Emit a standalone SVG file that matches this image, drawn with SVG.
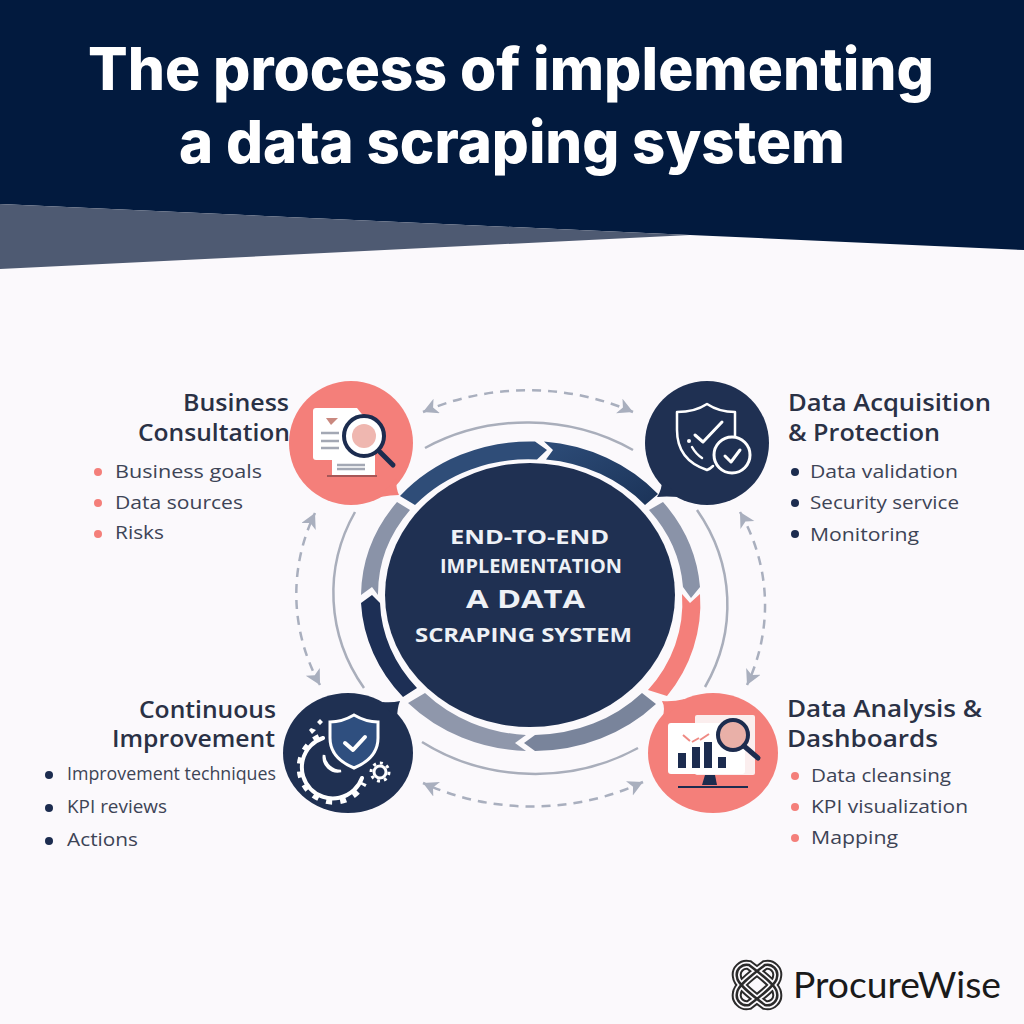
<svg xmlns="http://www.w3.org/2000/svg" width="1024" height="1024" viewBox="0 0 1024 1024">
<style>
.title{font-family:"Inter","Liberation Sans",sans-serif;font-weight:800;font-size:59px;fill:#fff}
.head{font-family:"Open Sans","Noto Sans",sans-serif;font-weight:600;font-size:23px;fill:#2a3145}
.item{font-family:"Open Sans","Noto Sans",sans-serif;font-size:19px;fill:#3d4456}
.core{font-family:"Open Sans","Liberation Sans",sans-serif;font-weight:700;fill:#eef1f6}
.dash{fill:none;stroke:#a9afbe;stroke-width:2.5;stroke-dasharray:9 7}
.thin{fill:none;stroke:#a9aebb;stroke-width:2.5}
.wl{fill:none;stroke:#fff;stroke-linecap:round;stroke-linejoin:round}
.gl{fill:none;stroke:#a3a8b4;stroke-width:2.5}
.dk{fill:#1f3052}
.sa{fill:#f47f7a}
.nv{fill:#1c2c4f}
</style>
<defs>
<marker id="ah" markerUnits="userSpaceOnUse" markerWidth="18" markerHeight="18" refX="15" refY="8" orient="auto-start-reverse"><path d="M0 0L15 8L0 16L4 8Z" fill="#a9afbe"/></marker>
<linearGradient id="gb" x1="0" y1="0" x2="1" y2="1"><stop offset="0" stop-color="#2d4c78"/><stop offset="1" stop-color="#1b3358"/></linearGradient>
<g id="knot" fill="none"><path d="M-8 -20A10 10 0 0 0-20 -8C-20 -2-8 8 8 20A10 10 0 0 0 20 8C20 2 8 -8-8 -20ZM8 -20A10 10 0 0 1 20 -8C20 -2 8 8-8 20A10 10 0 0 1-20 8C-20 2-8 -8 8 -20Z"/></g>
</defs>
<rect width="1024" height="1024" fill="#fbf9fc"/>
<path d="M0 0H1024V250L690 235L0 204Z" fill="#021a3e"/>
<path d="M0 204L690 235L0 269Z" fill="#4e5a72"/>
<text class="title" x="511" y="90" text-anchor="middle" textLength="846" lengthAdjust="spacingAndGlyphs">The process of implementing</text>
<text class="title" x="512" y="163" text-anchor="middle" textLength="666" lengthAdjust="spacingAndGlyphs">a data scraping system</text>

<g id="connectors">
<path class="dash" d="M423 412A236 208 0 0 1 633 412" marker-start="url(#ah)" marker-end="url(#ah)"/>
<path class="dash" d="M740 512A236 208 0 0 1 747 685" marker-start="url(#ah)" marker-end="url(#ah)"/>
<path class="dash" d="M643 782A236 208 0 0 1 423 783" marker-start="url(#ah)" marker-end="url(#ah)"/>
<path class="dash" d="M320 685A236 208 0 0 1 315 513" marker-start="url(#ah)" marker-end="url(#ah)"/>
<path class="thin" d="M425 448A198 178 0 0 1 633 450"/>
<path class="thin" d="M697 510A198 178 0 0 1 705 687"/>
<path class="thin" d="M638 748A198 178 0 0 1 422 742"/>
<path class="thin" d="M364 688A198 178 0 0 1 355 512"/>
</g>

<g id="ring">
<path d="M400 496A171 155 0 0 1 535 441.5L547 450L537 459.5A152 137 0 0 0 415 505Z" fill="#2f4d78"/>
<path d="M544 441.5A171 155 0 0 1 658 494L645 505A152 137 0 0 0 546 459.5L553 450Z" fill="url(#gb)"/>
<path d="M663 502A171 155 0 0 1 700 587L691 598L683 587A152 137 0 0 0 649 510Z" fill="#8a93a8"/>
<path d="M700 594A171 155 0 0 1 667 696L648 690A152 137 0 0 0 682 594L690 603Z" fill="#f47f7a"/>
<path d="M656 704A171 155 0 0 1 535 751L524 743L535 735A152 137 0 0 0 642 693Z" fill="#79849b"/>
<path d="M526 751A171 155 0 0 1 408 703L425 693A152 137 0 0 0 526 735L515 743Z" fill="#8f97ab"/>
<path d="M403 697A171 155 0 0 1 361 603L372 595L380 603A152 137 0 0 0 417 688Z" fill="#1d2f55"/>
<path d="M361 595A171 155 0 0 1 397 502L410 510A152 137 0 0 0 378 595L372 587Z" fill="#8a93a8"/>
</g>

<g id="center">
<ellipse class="dk" cx="530" cy="595" rx="145" ry="132"/>
<text class="core" x="529.5" y="544" font-size="20" text-anchor="middle" textLength="159" lengthAdjust="spacingAndGlyphs">END-TO-END</text>
<text class="core" x="531" y="573" font-size="20" text-anchor="middle" textLength="182" lengthAdjust="spacingAndGlyphs">IMPLEMENTATION</text>
<text class="core" x="525.5" y="608" font-size="25" text-anchor="middle" textLength="119" lengthAdjust="spacingAndGlyphs">A DATA</text>
<text class="core" x="523.5" y="642" font-size="19" text-anchor="middle" textLength="217" lengthAdjust="spacingAndGlyphs">SCRAPING SYSTEM</text>
</g>

<g id="business-consultation">
<circle class="sa" cx="351" cy="443" r="62"/>
<path class="sa" d="M396 478Q396 489 399 495Q391 495 380 497Z"/>
<path d="M316 408H357L365 418V460H316Q313 460 313 457V411Q313 408 316 408Z" fill="#fff"/>
<rect x="332" y="440" width="43" height="35" fill="#fff"/>
<path d="M326 418L338 418L331 425Z" fill="#c9887f"/>
<path class="gl" d="M321 433H339M321 441H339M321 448H339M337 465H365M337 469H365"/>
<path d="M327 476H377" stroke="#8c4a4c" stroke-width="1.5"/>
<circle cx="364" cy="436" r="20" fill="#fff" stroke="#1c2c4f" stroke-width="4"/>
<circle cx="364" cy="436" r="12" fill="#efb7b0"/>
<path d="M380 452L393 465" stroke="#1c2c4f" stroke-width="5" stroke-linecap="round"/>
<text class="head" x="289" y="411" text-anchor="end" textLength="106" lengthAdjust="spacingAndGlyphs">Business</text>
<text class="head" x="290" y="441" text-anchor="end" textLength="152" lengthAdjust="spacingAndGlyphs">Consultation</text>
<g class="sa"><circle cx="98" cy="472" r="4"/><circle cx="98" cy="503" r="4"/><circle cx="98" cy="534" r="4"/></g>
<text class="item" x="115" y="478" textLength="147" lengthAdjust="spacingAndGlyphs">Business goals</text>
<text class="item" x="115" y="509" textLength="128" lengthAdjust="spacingAndGlyphs">Data sources</text>
<text class="item" x="115" y="539" textLength="49" lengthAdjust="spacingAndGlyphs">Risks</text>
</g>

<g id="data-acquisition">
<circle class="dk" cx="707" cy="443" r="62"/>
<path class="dk" d="M662 480Q662 490 657 497Q665 496 680 497Z"/>
<path class="wl" stroke-width="2.5" d="M713 466Q710 469 707 470Q677 460 677 430V412Q695 412 707 404Q719 412 735 412V437"/>
<path class="wl" stroke-width="3" d="M695 435L703 442L722 422"/>
<circle cx="689" cy="441" r="2" fill="#fff"/>
<path class="wl" stroke-width="2.5" d="M692 447Q696 454 702 458"/>
<circle cx="732" cy="455" r="18" class="dk" stroke="#fff" stroke-width="3"/>
<path class="wl" stroke-width="3" d="M725 456L731 462L740 450"/>
<text class="head" x="788" y="411" textLength="203" lengthAdjust="spacingAndGlyphs">Data Acquisition</text>
<text class="head" x="788" y="441" textLength="152" lengthAdjust="spacingAndGlyphs">&amp; Protection</text>
<g class="nv"><circle cx="795" cy="472" r="4"/><circle cx="795" cy="503" r="4"/><circle cx="795" cy="534" r="4"/></g>
<text class="item" x="810" y="478" textLength="148" lengthAdjust="spacingAndGlyphs">Data validation</text>
<text class="item" x="810" y="509" textLength="149" lengthAdjust="spacingAndGlyphs">Security service</text>
<text class="item" x="810" y="541" textLength="109" lengthAdjust="spacingAndGlyphs">Monitoring</text>
</g>

<g id="continuous-improvement">
<ellipse class="dk" cx="348" cy="753" rx="65" ry="60"/>
<path class="dk" d="M382 702Q392 703 400 701Q397 708 397 720Z"/>
<path class="wl" stroke-width="4" d="M323 738A31 31 0 1 0 362 778"/>
<path fill="none" stroke="#fff" stroke-width="6" stroke-dasharray="6 8" d="M319 737A34 34 0 1 0 364 783"/>
<path d="M324 755A14 14 0 0 0 341 771A17 17 0 0 1 324 755Z" fill="none" stroke="#fff" stroke-width="2.5"/>
<path d="M354 715Q366 722 378 722V738Q378 758 354 768Q330 758 330 738V722Q342 722 354 715Z" fill="#2f4f7f" stroke="#fff" stroke-width="3"/>
<path fill="none" stroke="#ffffff" stroke-width="4" stroke-linecap="round" stroke-linejoin="round" d="M345 743L353 750L365 737"/>
<circle cx="380" cy="772" r="6" fill="none" stroke="#fff" stroke-width="3"/>
<circle cx="380" cy="772" r="9" fill="none" stroke="#fff" stroke-width="3" stroke-dasharray="3 4"/>
<path d="M320 719L323 722L320 725L317 722ZM311 728L316 730L312 734L309 730Z" fill="#fff"/>
<text class="head" x="276" y="718" text-anchor="end" textLength="137" lengthAdjust="spacingAndGlyphs">Continuous</text>
<text class="head" x="275" y="747" text-anchor="end" textLength="163" lengthAdjust="spacingAndGlyphs">Improvement</text>
<g class="nv"><circle cx="49" cy="775" r="4"/><circle cx="49" cy="808" r="4"/><circle cx="49" cy="841" r="4"/></g>
<text class="item" x="67" y="780" font-size="17" textLength="209" lengthAdjust="spacingAndGlyphs">Improvement techniques</text>
<text class="item" x="67" y="813" textLength="100" lengthAdjust="spacingAndGlyphs">KPI reviews</text>
<text class="item" x="67" y="846" textLength="71" lengthAdjust="spacingAndGlyphs">Actions</text>
</g>

<g id="data-analysis">
<ellipse class="sa" cx="713" cy="753" rx="65" ry="60"/>
<path class="sa" d="M685 699Q672 702 662 701Q666 708 662 720Z"/>
<rect x="695" y="715" width="60" height="60" rx="2" fill="#fbeeee"/>
<rect x="668" y="723" width="77" height="51" rx="3" fill="#fff"/>
<path d="M683 735L690 741M692 742L699 738M700 740L709 734" stroke="#ef8a84" stroke-width="2" fill="none"/>
<g class="nv"><rect x="678" y="753" width="8" height="15"/><rect x="692" y="747" width="8" height="21"/><rect x="704" y="742" width="8" height="26"/><rect x="718" y="757" width="8" height="11"/></g>
<path class="nv" d="M705 775H715L717 785H702Z"/>
<path d="M678 787H748" stroke="#1c2c4f" stroke-width="2"/>
<circle cx="733" cy="735" r="15" fill="#e9b0a8" stroke="#1c2c4f" stroke-width="4"/>
<path d="M744 746L758 758" stroke="#1c2c4f" stroke-width="5" stroke-linecap="round"/>
<text class="head" x="787" y="717" textLength="195" lengthAdjust="spacingAndGlyphs">Data Analysis &amp;</text>
<text class="head" x="787" y="747" textLength="151" lengthAdjust="spacingAndGlyphs">Dashboards</text>
<g class="sa"><circle cx="795" cy="776" r="4"/><circle cx="795" cy="807" r="4"/><circle cx="795" cy="838" r="4"/></g>
<text class="item" x="811" y="782" textLength="140" lengthAdjust="spacingAndGlyphs">Data cleansing</text>
<text class="item" x="811" y="813" textLength="157" lengthAdjust="spacingAndGlyphs">KPI visualization</text>
<text class="item" x="811" y="844" textLength="87" lengthAdjust="spacingAndGlyphs">Mapping</text>
</g>

<g id="logo">
<g transform="translate(757 985)">
<use href="#knot" stroke="#2b2b2b" stroke-width="10"/>
<use href="#knot" stroke="#fbf9fc" stroke-width="6"/>
<use href="#knot" stroke="#2b2b2b" stroke-width="2.5"/>
</g>
<text x="793" y="998" font-family="Lato,'Noto Sans',sans-serif" font-size="36" fill="#1a1a1a" textLength="208" lengthAdjust="spacingAndGlyphs">ProcureWise</text>
</g>
</svg>
